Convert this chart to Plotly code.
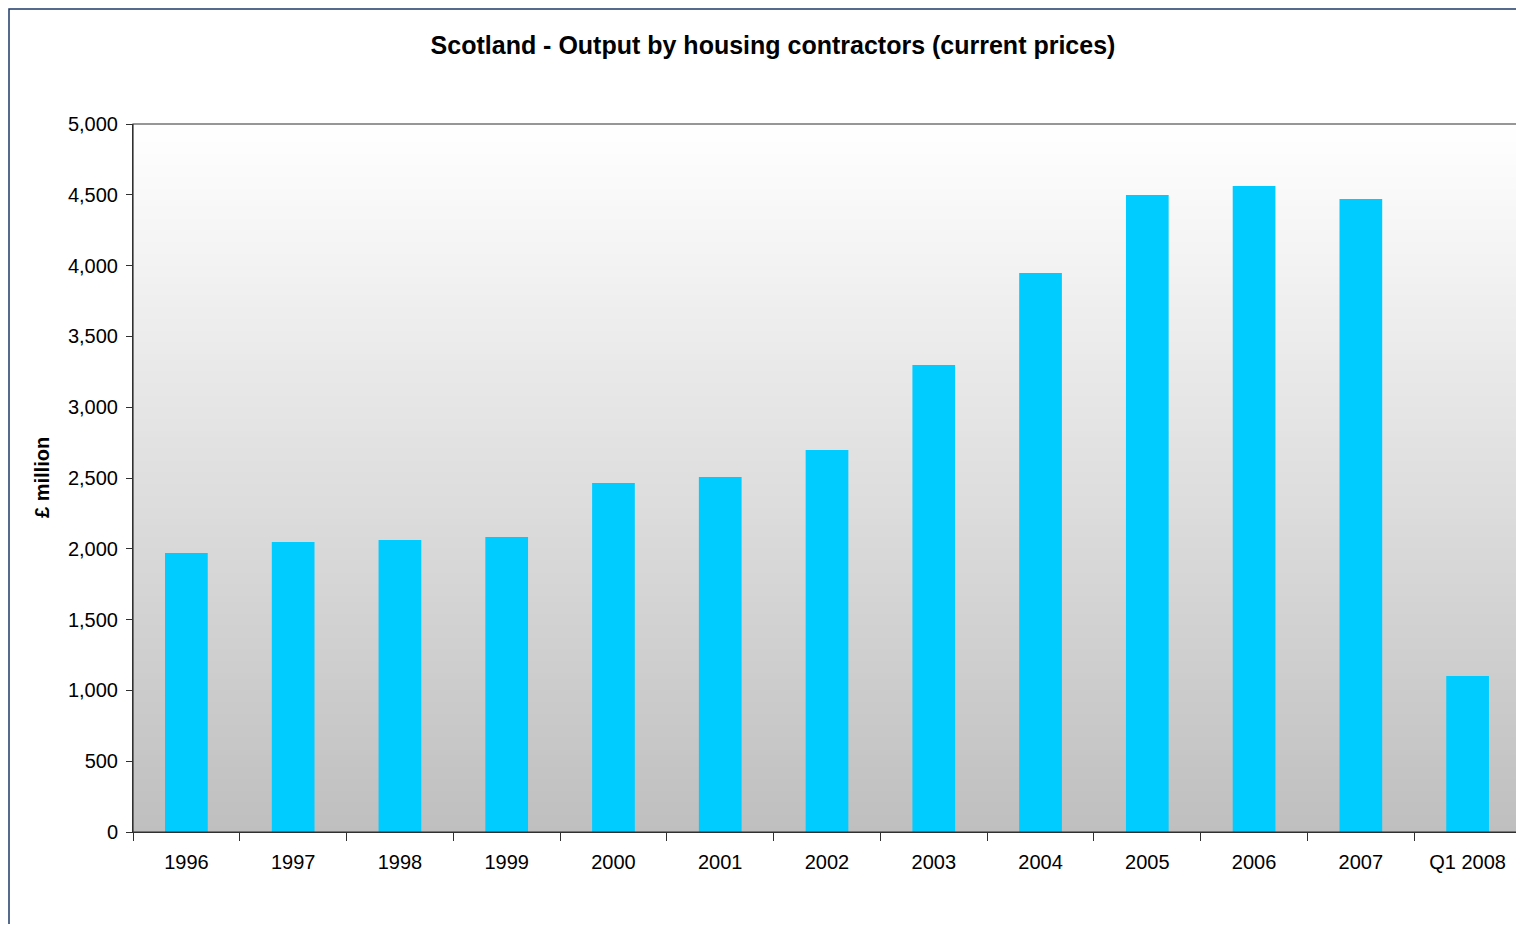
import plotly.graph_objects as go

# 年份 / 產出 (£ million)
years = ['1996', '1997', '1998', '1999', '2000', '2001', '2002',
         '2003', '2004', '2005', '2006', '2007', 'Q1 2008']
output = [1970, 2048, 2062, 2083, 2465, 2507, 2698,
          3298, 3948, 4499, 4562, 4470, 1102]

y_ticks = [0, 500, 1000, 1500, 2000, 2500, 3000, 3500, 4000, 4500, 5000]

font_name = 'Liberation Sans, Arial, sans-serif'

# 頁面有 8px 邊距，所以尺寸都扣掉（避免出現捲軸）
W, H = 1516, 916
L, R, T, B = 125, 3, 116, 92
plot_w = W - L - R
plot_h = H - T - B

fig = go.Figure()
fig.add_trace(go.Bar(
    x=years,
    y=output,
    marker=dict(color='#00ccff', line=dict(width=0)),
    width=0.4,
))

# 背景漸層：白色到灰色
shapes = []
n = 120
for i in range(n):
    t = i / (n - 1)
    c = int(round(255 - (255 - 191) * (1 - t)))
    shapes.append(dict(
        type='rect', xref='x domain', yref='y domain',
        x0=0, x1=1, y0=i / n, y1=min(1, (i + 2) / n),
        fillcolor='rgb(%d,%d,%d)' % (c, c, c),
        line=dict(width=0), layer='below',
    ))
# 圖表外框
shapes.append(dict(
    type='rect', xref='paper', yref='paper',
    x0=(1 - L) / plot_w, x1=1.2, y0=-0.5, y1=1 + (T - 1) / plot_h,
    line=dict(color='#1f3a68', width=1.5), fillcolor='rgba(0,0,0,0)',
    layer='above',
))
# 繪圖區邊框
shapes.append(dict(
    type='rect', xref='paper', yref='paper',
    x0=0, x1=1, y0=0, y1=1,
    line=dict(color='#303030', width=1.2), fillcolor='rgba(0,0,0,0)',
    layer='above',
))

fig.update_layout(
    width=W, height=H,
    margin=dict(l=L, r=R, t=T, b=B),
    paper_bgcolor='white',
    plot_bgcolor='white',
    showlegend=False,
    font=dict(family=font_name, size=20, color='#000000'),
    title=dict(
        text='<b>Scotland - Output by housing contractors (current prices)</b>',
        x=765 / W, xanchor='center', xref='container',
        y=1 - 37 / H, yanchor='middle', yref='container',
        font=dict(family=font_name, size=25, color='#000000'),
    ),
    xaxis=dict(
        type='category',
        tickson='boundaries',
        ticks='outside', ticklen=8, tickcolor='#303030',
        showline=True, linecolor='#303030', linewidth=1,
        showgrid=False,
        tickfont=dict(size=20),
        ticklabelstandoff=12,
    ),
    yaxis=dict(
        range=[0, 5000],
        tickvals=y_ticks,
        tickformat=',d',
        ticks='outside', ticklen=6, tickcolor='#303030',
        showline=True, linecolor='#303030', linewidth=1,
        showgrid=False, zeroline=False,
        tickfont=dict(size=20),
        ticklabelstandoff=4,
    ),
    shapes=shapes,
    annotations=[dict(
        text='<b>£ million</b>', textangle=-90,
        xref='paper', yref='paper',
        x=(34 - L) / plot_w, y=0.5,
        xanchor='center', yanchor='middle',
        showarrow=False, font=dict(size=20),
    )],
    bargap=0.6,
)

fig.write_html('out.html')
